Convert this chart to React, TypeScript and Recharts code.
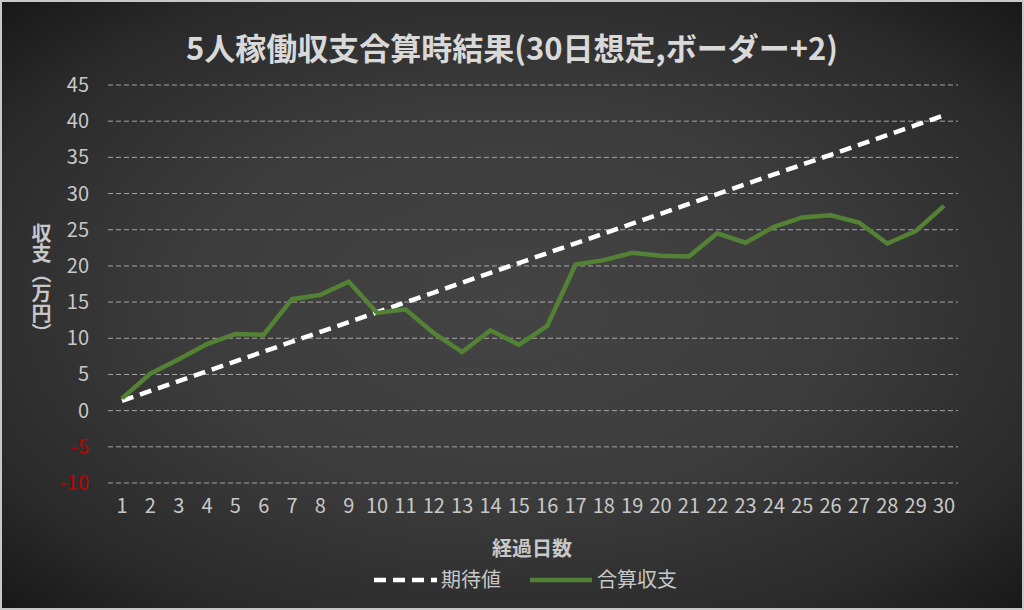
import React from "react";
import { LineChart, Line, XAxis, YAxis, CartesianGrid } from "recharts";

const days = [
  1, 2, 3, 4, 5, 6, 7, 8, 9, 10, 11, 12, 13, 14, 15, 16, 17, 18, 19, 20, 21,
  22, 23, 24, 25, 26, 27, 28, 29, 30,
];

const expected = [
  1.36, 2.72, 4.08, 5.44, 6.8, 8.16, 9.52, 10.88, 12.24, 13.6, 14.96, 16.32,
  17.68, 19.04, 20.4, 21.76, 23.12, 24.48, 25.84, 27.2, 28.56, 29.92, 31.28,
  32.64, 34.0, 35.36, 36.72, 38.08, 39.44, 40.8,
];

const actual = [
  1.7, 5.1, 7.1, 9.2, 10.6, 10.5, 15.4, 16.0, 17.8, 13.5, 14.0, 10.7, 8.1,
  11.1, 9.1, 11.7, 20.2, 20.8, 21.8, 21.4, 21.3, 24.5, 23.2, 25.4, 26.7, 27.0,
  26.0, 23.1, 24.8, 28.3,
];

const yTicks = [-10, -5, 0, 5, 10, 15, 20, 25, 30, 35, 40, 45];

const data = days.map((d, i) => ({
  day: d,
  expected: expected[i],
  actual: actual[i],
}));

const FONT = "'Noto Sans CJK JP', 'Noto Sans', sans-serif";
const TEXT = "#c8c8c8";

function YTick({ x, y, payload }: any) {
  const v = payload.value as number;
  return (
    <text
      x={x}
      y={y}
      dy="0.35em"
      textAnchor="end"
      fontSize={20}
      fontFamily={FONT}
      fill={v < 0 ? "#c00000" : TEXT}
    >
      {v}
    </text>
  );
}

// legend drawn by hand, Recharts' Legend would shrink the plot area
function ChartLegend() {
  return (
    <svg
      width={1024}
      height={30}
      style={{ position: "absolute", left: -2, top: 563 }}
    >
      <line
        x1={374}
        x2={437}
        y1={15}
        y2={15}
        stroke="#ffffff"
        strokeWidth={4.5}
        strokeDasharray="12 7"
      />
      <text x={441} y={15} dy="0.35em" fontSize={20} fontFamily={FONT} fill={TEXT}>
        期待値
      </text>
      <line x1={530} x2={592} y1={15} y2={15} stroke="#548235" strokeWidth={4.5} />
      <text x={597} y={15} dy="0.35em" fontSize={20} fontFamily={FONT} fill={TEXT}>
        合算収支
      </text>
    </svg>
  );
}

export default function App() {
  return (
    <div
      style={{
        position: "absolute",
        left: 0,
        top: 0,
        width: 1024,
        height: 610,
        boxSizing: "border-box",
        border: "2px solid #c8c8c8",
        background:
          "radial-gradient(ellipse at center, #444444 0%, #3c3c3c 45%, #2a2a2a 80%, #181818 100%)",
        fontFamily: FONT,
        overflow: "hidden",
      }}
    >
      <div
        style={{
          position: "absolute",
          top: 22,
          left: 0,
          width: 1020,
          textAlign: "center",
          fontSize: 31,
          fontWeight: 700,
          color: "#d9d9d9",
        }}
      >
        5人稼働収支合算時結果(30日想定,ボーダー+2)
      </div>
      <div
        style={{
          position: "absolute",
          left: 25,
          top: 221,
          writingMode: "vertical-rl",
          fontSize: 20,
          fontWeight: 700,
          color: TEXT,
        }}
      >
        収支（万円）
      </div>
      <div
        style={{
          position: "absolute",
          left: 490,
          top: 531,
          fontSize: 20,
          fontWeight: 700,
          color: TEXT,
        }}
      >
        経過日数
      </div>
      <div style={{ position: "absolute", left: -2, top: -2 }}>
        <LineChart
          width={1024}
          height={610}
          data={data}
          margin={{ top: 85, right: 66, bottom: 97, left: 48 }}
        >
          <CartesianGrid
            vertical={false}
            stroke="#a6a6a6"
            strokeDasharray="5 3"
            strokeWidth={1}
          />
          <XAxis
            dataKey="day"
            height={30}
            axisLine={false}
            tickLine={false}
            tickSize={0}
            tickMargin={16}
            padding={{ left: 14, right: 14 }}
            interval={0}
            tick={{ fontSize: 20, fill: TEXT, fontFamily: FONT }}
          />
          <YAxis
            width={60}
            domain={[-10, 45]}
            ticks={yTicks}
            interval={0}
            axisLine={false}
            tickLine={false}
            tickSize={0}
            tickMargin={19}
            tick={<YTick />}
          />
          <Line
            type="linear"
            dataKey="expected"
            name="期待値"
            stroke="#ffffff"
            strokeWidth={4.5}
            strokeDasharray="12 7"
            dot={false}
            isAnimationActive={false}
          />
          <Line
            type="linear"
            dataKey="actual"
            name="合算収支"
            stroke="#548235"
            strokeWidth={4.5}
            dot={false}
            isAnimationActive={false}
          />
        </LineChart>
      </div>
      <ChartLegend />
    </div>
  );
}
